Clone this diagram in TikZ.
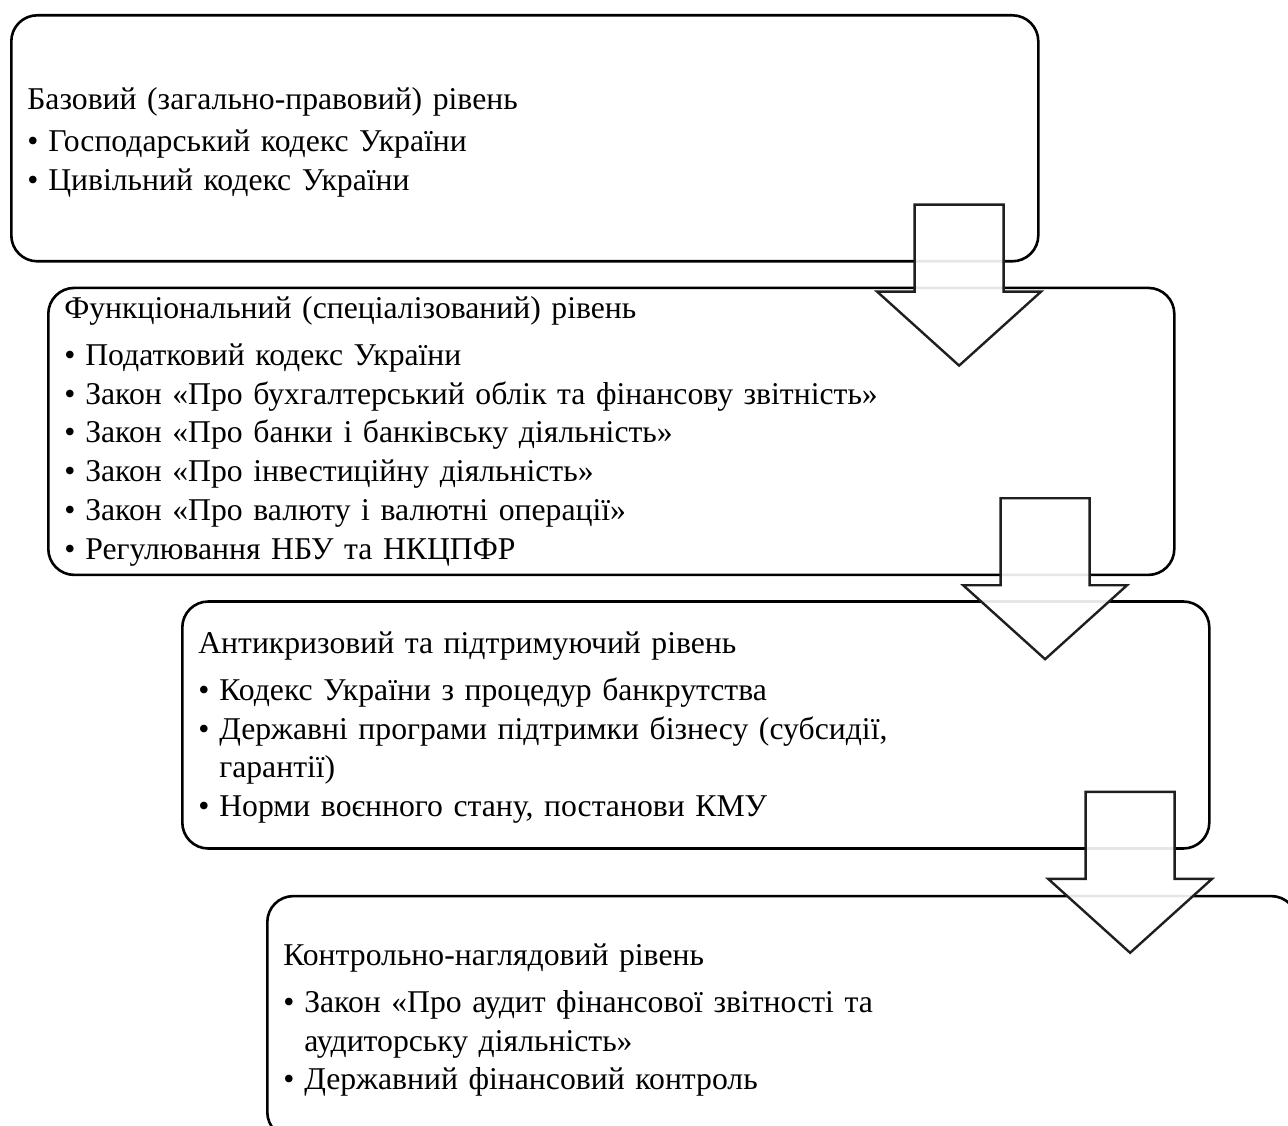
\documentclass[tikz,border=0pt]{standalone}
\usepackage{fontspec}
\setmainfont{Liberation Serif}
\usetikzlibrary{positioning}

\newcommand{\lvlitem}{\makebox[21pt][l]{•}}
\newcommand{\lvlcont}{\hspace*{21pt}}

\begin{document}
\begin{tikzpicture}[
    x=1pt, y=-1pt,
    levelbox/.style={draw, line width=2.6pt, rounded corners=26pt, align=left, anchor=north west,
        inner xsep=16pt, inner ysep=0pt, font=\fontsize{31.7}{38.8}\selectfont},
    arrowshape/.style={draw=black!88, line width=2.4pt, fill=white, fill opacity=0.9},
    downarrow/.pic={
        \draw[arrowshape] (-44.5,0) -- (44.5,0) -- (44.5,87) -- (82,87) -- (0,161)
            -- (-82,87) -- (-44.5,87) -- cycle;
    }
]
\useasboundingbox (0,0) rectangle (1288,1126);
\clip (0,0) rectangle (1288,1126);

\node[levelbox, text width=995pt, minimum height=246pt] (base) at (10,14) {%
    \rule{0pt}{30pt}Базовий (загально-правовий) рівень\\[4pt]
    \lvlitem Господарський кодекс України\\
    \lvlitem Цивільний кодекс України};
\node[levelbox, text width=1094pt, minimum height=287pt,
      below right=24pt and 37pt of base.south west] (func) {%
    Функціональний (спеціалізований) рівень\\[8pt]
    \lvlitem Податковий кодекс України\\
    \lvlitem Закон «Про бухгалтерський облік та фінансову звітність»\\
    \lvlitem Закон «Про банки і банківську діяльність»\\
    \lvlitem Закон «Про інвестиційну діяльність»\\
    \lvlitem Закон «Про валюту і валютні операції»\\
    \lvlitem Регулювання НБУ та НКЦПФР};
\node[levelbox, text width=995pt, minimum height=247pt,
      below right=24pt and 134pt of func.south west] (crisis) {%
    \rule{0pt}{27pt}Антикризовий та підтримуючий рівень\\[8pt]
    \lvlitem Кодекс України з процедур банкрутства\\
    \lvlitem Державні програми підтримки бізнесу (субсидії,\\
    \lvlcont гарантії)\\
    \lvlitem Норми воєнного стану, постанови КМУ};
\node[levelbox, text width=998pt, minimum height=242pt,
      below right=45pt and 85pt of crisis.south west] (control) {%
    \rule{0pt}{28pt}Контрольно-наглядовий рівень\\[8pt]
    \lvlitem Закон «Про аудит фінансової звітності та\\
    \lvlcont аудиторську діяльність»\\
    \lvlitem Державний фінансовий контроль};

% arrows between levels
\pic at ([xshift=-80.5pt,yshift=58pt]base.south east) {downarrow};
\pic at ([xshift=-130.5pt,yshift=78pt]func.south east) {downarrow};
\pic at ([xshift=-80.5pt,yshift=58pt]crisis.south east) {downarrow};
\end{tikzpicture}
\end{document}
